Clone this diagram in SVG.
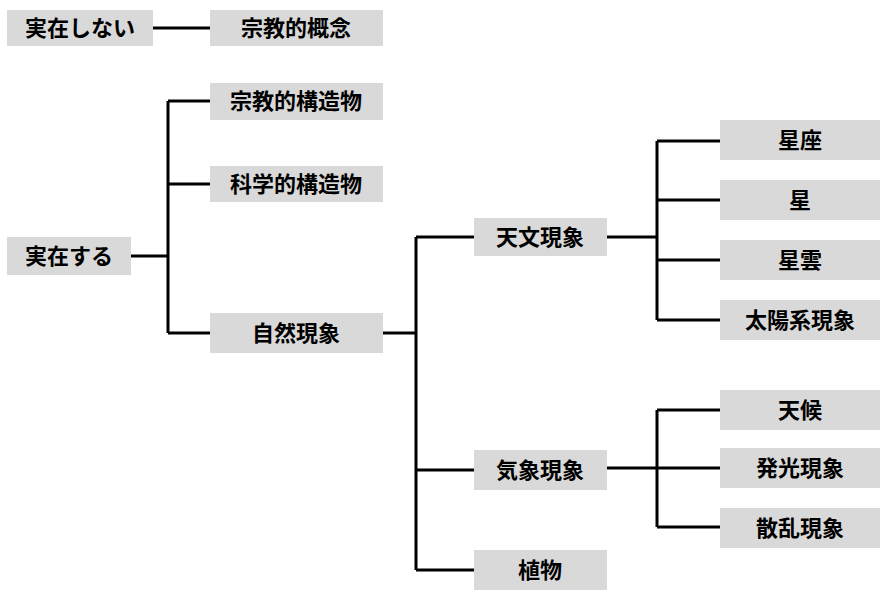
<svg xmlns="http://www.w3.org/2000/svg" width="887" height="600" viewBox="0 0 887 600">
<style>
.b{fill:#d9d9d9}
.t{font-family:"Liberation Sans","Noto Sans CJK JP",sans-serif;font-size:22px;font-weight:bold;fill:#000;text-anchor:middle;dominant-baseline:central}
.c{stroke:#000;stroke-width:3;fill:none}
</style>
<rect width="887" height="600" fill="#fff"/>
<g id="connectors" class="c">
<path d="M153 28H210"/>
<path d="M131 256H168M168 101V333M168 101H210M168 184H210M168 333H210"/>
<path d="M383 333H416M416 237V570M416 237H474M416 470H474M416 570H474"/>
<path d="M607 237H657M657 141V320M657 141H720M657 200H720M657 260H720M657 320H720"/>
<path d="M607 468H657M657 410V527M657 410H720M657 468H720M657 527H720"/>
</g>
<g id="n1"><rect class="b" x="7" y="10" width="146" height="36"/><text class="t" x="80" y="28">実在しない</text></g>
<g id="n2"><rect class="b" x="210" y="10" width="173" height="36"/><text class="t" x="296" y="28">宗教的概念</text></g>
<g id="n3"><rect class="b" x="210" y="83" width="173" height="37"/><text class="t" x="296" y="101">宗教的構造物</text></g>
<g id="n4"><rect class="b" x="210" y="166" width="173" height="36"/><text class="t" x="296" y="184">科学的構造物</text></g>
<g id="n5"><rect class="b" x="7" y="237" width="124" height="38"/><text class="t" x="69" y="256">実在する</text></g>
<g id="n6"><rect class="b" x="210" y="313" width="173" height="40"/><text class="t" x="296" y="333">自然現象</text></g>
<g id="n7"><rect class="b" x="474" y="218" width="133" height="38"/><text class="t" x="540" y="237">天文現象</text></g>
<g id="n8"><rect class="b" x="474" y="450" width="133" height="40"/><text class="t" x="540" y="470">気象現象</text></g>
<g id="n9"><rect class="b" x="474" y="550" width="133" height="40"/><text class="t" x="540" y="570">植物</text></g>
<g id="n10"><rect class="b" x="720" y="120" width="160" height="40"/><text class="t" x="800" y="140">星座</text></g>
<g id="n11"><rect class="b" x="720" y="180" width="160" height="40"/><text class="t" x="800" y="200">星</text></g>
<g id="n12"><rect class="b" x="720" y="240" width="160" height="40"/><text class="t" x="800" y="260">星雲</text></g>
<g id="n13"><rect class="b" x="720" y="300" width="160" height="40"/><text class="t" x="800" y="320">太陽系現象</text></g>
<g id="n14"><rect class="b" x="720" y="390" width="160" height="40"/><text class="t" x="800" y="410">天候</text></g>
<g id="n15"><rect class="b" x="720" y="448" width="160" height="40"/><text class="t" x="800" y="468">発光現象</text></g>
<g id="n16"><rect class="b" x="720" y="508" width="160" height="40"/><text class="t" x="800" y="528">散乱現象</text></g>
</svg>
